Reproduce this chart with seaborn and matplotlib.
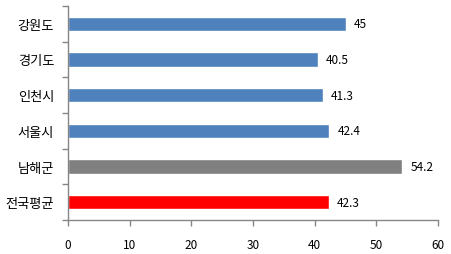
import matplotlib
matplotlib.use("Agg")
import matplotlib.pyplot as plt
import seaborn as sns
import numpy as np

categories = ["강원도", "경기도", "인천시", "서울시", "남해군", "전국평균"]
values = [45, 40.5, 41.3, 42.4, 54.2, 42.3]
bar_colors = ["#4F81BD", "#4F81BD", "#4F81BD", "#4F81BD", "#808080", "#FF0000"]
x_ticks = [0, 10, 20, 30, 40, 50, 60]

sns.set_theme(style="white")
plt.rcParams["font.family"] = ["Noto Sans CJK KR", "DejaVu Sans"]

fig = plt.figure(figsize=(4.51, 2.55), dpi=100)
ax = fig.add_axes([68 / 451, 1 - 221 / 255, (438 - 68) / 451, (221 - 7) / 255])

sns.barplot(x=values, y=categories, hue=categories, palette=bar_colors,
            legend=False, width=0.4, ax=ax, saturation=1, orient="h")

for cont in ax.containers:
    labels = [("%g" % v) for v in cont.datavalues]
    ax.bar_label(cont, labels=labels, padding=6, fontsize=8.5, color="black")

ax.set_xlim(0, 60)
ax.set_xticks(x_ticks)
ax.set_ylim(5.5, -0.5)
ax.set_yticks(np.arange(len(categories)))
ax.set_yticklabels(categories)
ax.set_yticks(np.arange(-0.5, len(categories), 1.0), minor=True)
ax.tick_params(axis="y", which="major", length=0, pad=10, labelsize=9.5, colors="black")
ax.tick_params(axis="y", which="minor", length=4, width=1, color="#868686", direction="out", left=True)
ax.tick_params(axis="x", length=4, width=1, color="#868686", direction="out", bottom=True,
               pad=9, labelsize=8.5, labelcolor="black")
ax.set_xlabel("")
ax.set_ylabel("")
for s in ["top", "right"]:
    ax.spines[s].set_visible(False)
for s in ["left", "bottom"]:
    ax.spines[s].set_color("#868686")
    ax.spines[s].set_linewidth(1)

fig.savefig("out.png", dpi=100)
